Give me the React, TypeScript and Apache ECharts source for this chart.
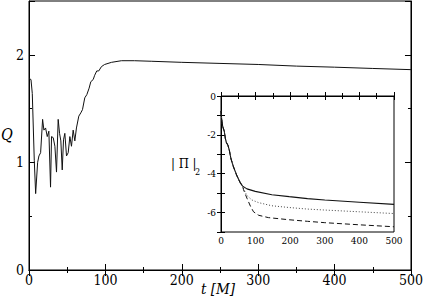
import React, { useEffect, useRef } from "react";
import * as echarts from "echarts";

// Main curve Q(t)
const tMain = [0, 2.6, 4.3, 6.9, 8.7, 11.3, 13, 15.2, 17.8, 19.5, 21.7, 23.9, 26, 28.2, 29.5, 31.7, 33.9, 36, 38.2, 40, 41.7, 43.5, 45.2, 46.9, 49.1, 51.3, 53.5, 55.6, 57.8, 60, 62.1, 65.2, 67.8, 70, 73, 75.7, 78.7, 80.9, 84, 86, 88.7, 91.3, 94.8, 99, 108, 121, 138, 160, 200, 250, 300, 350, 400, 450, 500];
const qMain = [1.78, 1.77, 1.64, 1.02, 0.71, 1.0, 1.06, 1.09, 1.4, 1.3, 1.32, 1.24, 1.29, 0.77, 1.24, 1.23, 1.15, 0.91, 1.4, 1.27, 1.2, 0.93, 1.21, 1.27, 1.06, 1.09, 1.24, 1.15, 1.3, 1.2, 1.32, 1.43, 1.46, 1.49, 1.6, 1.63, 1.69, 1.75, 1.77, 1.81, 1.85, 1.85, 1.89, 1.91, 1.93, 1.945, 1.945, 1.94, 1.93, 1.92, 1.91, 1.895, 1.885, 1.873, 1.862];

// Inset: shared early decay
const tCommon = [0, 2, 4.8, 9.6, 12.5, 15.4, 20, 24, 28.8, 36.5, 46, 55.8, 62.5];
const vCommon = [-0.77, -1.21, -1.56, -1.82, -2.18, -2.39, -2.53, -2.79, -3.23, -3.67, -4.11, -4.47, -4.64];
// Inset branches
const tSolid = [75, 99, 147, 197, 250, 300, 400, 500];
const vSolid = [-4.78, -4.91, -5.08, -5.18, -5.28, -5.35, -5.47, -5.58];
const tDotted = [70, 75, 89, 109, 147, 197, 250, 300, 400, 500];
const vDotted = [-4.95, -5.12, -5.35, -5.49, -5.65, -5.74, -5.82, -5.87, -5.96, -6.05];
const tDashed = [65, 75, 85, 94, 109, 137, 197, 250, 300, 400, 500];
const vDashed = [-4.82, -5.26, -5.67, -5.96, -6.14, -6.26, -6.37, -6.45, -6.52, -6.63, -6.73];

const mainTicksX = [0, 100, 200, 300, 400, 500];
const insetTicksX = [0, 100, 200, 300, 400, 500];

const FONT = "'DejaVu Serif Condensed', 'DejaVu Serif', serif";

function pairs(t: number[], v: number[]) {
  return t.map((x, i) => [x, v[i]]);
}

export default function App() {
  const ref = useRef<HTMLDivElement>(null);
  useEffect(() => {
    if (!ref.current) return;
    const chart = echarts.init(ref.current, null, { renderer: "svg" });
    const black = "#000";
    const xAx = (grid: number, pos: string, min: number, max: number, interval: number, len: number, minorLen: number, labels: boolean, fs: number, margin: number) => ({
      type: "value",
      gridIndex: grid,
      position: pos,
      min,
      max,
      interval,
      axisLine: { show: true, lineStyle: { color: black, width: 1 } },
      axisTick: { show: true, inside: true, length: len, lineStyle: { color: black } },
      minorTick: { show: true, splitNumber: 2, length: minorLen, lineStyle: { color: black } },
      splitLine: { show: false },
      minorSplitLine: { show: false },
      axisLabel: { show: labels, color: black, fontSize: fs, fontFamily: FONT, margin },
    });
    const yAx = (grid: number, pos: string, min: number, max: number, interval: number, len: number, labels: boolean, fs: number, margin: number, fmt?: (v: number) => string, line = true) => ({
      type: "value",
      gridIndex: grid,
      position: pos,
      min,
      max,
      interval,
      axisLine: { show: line, lineStyle: { color: black, width: 1 } },
      axisTick: { show: true, inside: true, length: len, lineStyle: { color: black } },
      splitLine: { show: false },
      axisLabel: { show: labels, color: black, fontSize: fs, fontFamily: FONT, margin, formatter: fmt },
    });
    const option: any = {
      animation: false,
      backgroundColor: "#fff",
      textStyle: { fontFamily: FONT },
      grid: [
        { left: 29, top: 1, width: 384, height: 269, show: true, borderColor: black, borderWidth: 1, backgroundColor: "transparent" },
        { left: 221, top: 96, width: 173, height: 136, show: true, borderColor: black, borderWidth: 1, backgroundColor: "#fff" },
      ],
      xAxis: [
        xAx(0, "bottom", mainTicksX[0], mainTicksX[mainTicksX.length - 1], 100, 6, 3, true, 14, 3),
        xAx(0, "top", 0, 500, 100, 6, 3, false, 14, 3),
        xAx(1, "bottom", insetTicksX[0], insetTicksX[insetTicksX.length - 1], 100, 4, 3, true, 10, 3),
        xAx(1, "top", 0, 500, 100, 4, 3, false, 10, 3),
      ],
      yAxis: [
        yAx(0, "left", 0, 2.5, 1, 6, true, 14, 5, (v: number) => (Number.isInteger(v) ? String(v) : "")),
        yAx(0, "left", 0, 2.5, 0.5, 3, false, 14, 5, undefined, false),
        yAx(0, "right", 0, 2.5, 1, 6, false, 14, 5),
        yAx(0, "right", 0, 2.5, 0.5, 3, false, 14, 5, undefined, false),
        yAx(1, "left", -7, 0, 1, 4, true, 10, 5, (v: number) => (v % 2 === 0 ? String(v) : "")),
        yAx(1, "right", -7, 0, 1, 4, false, 10, 5),
      ],
      series: [
        {
          type: "line", xAxisIndex: 0, yAxisIndex: 0, data: pairs(tMain, qMain), showSymbol: false, symbol: "none",
          lineStyle: { color: "#111", width: 1 },
        },
        {
          type: "line", xAxisIndex: 2, yAxisIndex: 4, symbol: "none",
          data: pairs(tCommon.concat(tSolid), vCommon.concat(vSolid)),
          lineStyle: { color: "#111", width: 1.1 },
        },
        {
          type: "line", xAxisIndex: 2, yAxisIndex: 4, symbol: "none",
          data: pairs(tCommon.concat(tDotted), vCommon.concat(vDotted)),
          lineStyle: { color: "#444", width: 1, type: [1, 2] },
        },
        {
          type: "line", xAxisIndex: 2, yAxisIndex: 4, symbol: "none",
          data: pairs(tCommon.concat(tDashed), vCommon.concat(vDashed)),
          lineStyle: { color: "#111", width: 1, type: [5, 3] },
        },
      ],
      graphic: [
        { type: "text", left: 1, top: 126, style: { text: "Q", fontStyle: "italic", fontSize: 16, fontFamily: FONT, fill: black } },
        { type: "text", left: 201, top: 281, style: { text: "t [M]", fontStyle: "italic", fontSize: 15, fontFamily: FONT, fill: black } },
        { type: "text", left: 171, top: 157, style: { text: "| Π |", fontSize: 13, fontFamily: FONT, fill: black } },
        { type: "text", left: 195, top: 167, style: { text: "2", fontSize: 9, fontFamily: FONT, fill: black } },
      ],
    };
    chart.setOption(option);
    return () => chart.dispose();
  }, []);
  return <div ref={ref} style={{ width: 426, height: 305, position: "absolute", left: 0, top: 0 }} />;
}
